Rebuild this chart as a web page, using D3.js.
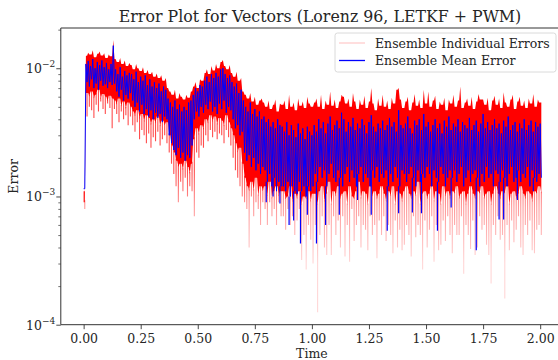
<!DOCTYPE html>
<html>
<head>
<meta charset="utf-8">
<script src="https://cdn.jsdelivr.net/npm/d3@7/dist/d3.min.js"></script>
<style>
  body { margin: 0; background: #fff; }
  svg { display: block; }
  text { font-family: "DejaVu Serif", serif; fill: #262626; }
</style>
</head>
<body>
<svg id="chart" width="558" height="360"></svg>
<script>
// Error values are stored in units of 1e-4, one sample every 0.01 time units from t = 0.
const UNIT = 1e-4;
const T_STEP = 0.01;

// Ensemble members: upper edge, dense lower edge and faint lowest excursions per step.
const redHigh = [11,
  125,132,128,138,122,130,135,126,131,120,128,124,
  166,
  118,112,120,108,115,104,110,
  106,98,108,100,95,102,92,97,90,94,86,91,84,88,80,84,
  70,66,62,68,58,64,60,57,62,59,66,
  72,78,70,82,80,
  92,98,90,104,96,108,100,112,116,104,98,106,
  92,86,94,80,84,
  66,62,58,64,55,60,52,56,58,
  54,50,56,48,52,57,46,53,
  52,56,48,62,50,54,47,58,51,55,49,60,53,50,
  54,58,50,62,48,56,52,66,51,57,
  49,55,62,60,53,58,50,64,55,48,
  57,52,61,49,55,70,53,47,58,51,
  62,50,56,48,59,53,68,70,57,49,
  55,60,47,54,63,51,57,49,68,53,
  66,50,56,61,48,55,52,59,47,57,
  53,62,50,56,72,49,54,58,51,60,
  48,55,63,57,57,52,59,47,56,61,
  52,58,49,65,54,50,57,62,48,55,
  60,51,56,49,58,53,63,50,57,54];

const redLow = [9,
  64,60,66,58,62,68,57,63,60,55,61,58,
  56,
  52,58,50,55,48,54,50,
  46,42,47,40,44,38,43,41,36,40,37,42,35,39,36,38,
  30,25,22,19,17,18,16,19,17,15,18,
  28,34,30,36,33,
  40,37,43,38,42,36,41,39,35,43,38,34,
  30,26,22,24,18,
  14,12,11,13,11,14,10,12,11,
  12,10,13,9.5,11,12,10,11,
  11,9.5,10,12,9,10.5,9.5,11,8.5,10,9.5,11,9,10.5,
  10.5,8.5,11,12,9,10.5,13,8.5,11,10,
  12,9.5,10.5,11,8.5,12,10,9.5,11,13,
  9.5,11,10.5,8.5,12,10,11,9.5,10.5,12,
  10.5,9,11,10,12,8.5,11,10.5,9,11,
  12,10.5,9.5,11,10,13,8.5,10.5,11,9.5,
  10.5,12,9,11,10.5,8.5,12,10,11,9.5,
  11,10.5,12,9.5,10.5,11,8.5,10.5,12,10.5,
  9.5,11,10.5,12,9.5,10.5,11,8.5,10.5,12,
  10.5,9.5,11,10.5,12,8.5,10.5,11,9.5,10.5,
  12,10.5,9.5,11,10.5,9,11,10.5,12,10.5];

const redMin = [8,
  42,50,47,41,52,46,55,48,44,53,49,34,
  48,
  44,38,46,40,43,36,42,
  36,32,38,28,33,30,26,31,24,29,27,32,25,28,30,26,
  22,18,15,12,9,13,11,14,10,12,11,
  7,22,20,25,24,
  30,27,33,29,32,28,31,30,26,33,29,25,
  20,16,14,12,10,
  9,8,4,10,7,9,8,6,9,
  8,6,9,7,8,6,9,7,
  7,5.5,8,6,7,5,6.5,8,3.2,5,2.7,6,4.6,3,
  6,1.25,5,7,4,3.5,6,3.5,7,5,
  6.5,4,7,3.4,6,3.1,8,4.5,6,7,
  4,6,5.5,3.8,7,5,6,3.3,6.5,5,
  7,4.5,6,5,3.6,6.5,4,5.5,3.8,4.2,
  6,5,3.4,7,4.8,6,5,2.7,6.5,4,
  5.5,7,3.1,6,3.8,4.2,6.5,4.5,7,5,
  3.6,6,5,5,7,2.5,6,5,3.9,6.5,
  3.5,4,7,5.5,6,4.2,3.5,2.1,6,5,
  7,4.6,5,1.6,6,3.8,6.5,4.4,5.5,7,
  4,3.5,6,5,6.5,3.8,3.6,5.5,6,5];

// Ensemble mean: upper and lower edge per step, plus isolated deep dips [time, value].
const meanHigh = [11.5,
  108,114,104,118,100,112,106,115,102,110,98,108,
  150,
  98,90,102,86,95,88,92,
  90,82,94,78,86,80,88,74,82,72,78,70,76,66,72,68,
  58,54,50,56,48,52,46,50,47,54,56,
  62,70,66,74,72,
  80,86,78,90,84,92,86,98,100,90,84,88,
  78,72,76,64,68,
  56,50,46,54,44,48,42,46,40,
  42,38,40,35,38,34,40,36,
  35,32,38,30,36,33,29,37,31,34,28,35,32,30,
  36,32,40,34,38,31,37,42,33,36,
  39,34,45,40,32,38,35,41,33,37,
  34,40,36,31,38,43,35,32,37,34,
  39,33,36,41,35,38,32,47,36,34,
  37,42,34,31,39,36,40,33,44,35,
  38,32,36,40,34,37,31,39,35,42,
  33,37,35,40,32,38,36,34,41,33,
  36,39,32,37,44,34,38,33,36,40,
  34,37,31,39,35,42,33,36,38,32,
  37,34,40,33,36,39,32,38,35,37];

const meanLow = [11.5,
  78,72,82,70,76,68,80,73,75,70,78,74,
  76,
  66,60,68,56,62,58,64,
  56,50,54,46,52,44,48,42,47,40,45,41,44,38,42,40,
  30,26,23,21,24,20,22,19,21,20,25,
  40,46,42,50,45,
  52,48,55,46,50,44,53,48,56,45,50,47,
  40,34,36,30,32,
  22,19,21,17,20,16,18,15,17,
  16,13,15,12,14,11,13,12,
  12,11,13,10,12,11,10.5,13,11,12,10,12,11,12,
  15,13,17,14,16,12,15,18,14,13,
  16,14,12,15,17,13,16,14,12,15,
  17,13,15,14,12,16,14,17,13,15,
  14,16,12,15,13,17,14,12,16,15,
  13,15,17,14,12,16,13,15,14,17,
  15,12,16,14,13,17,15,12,14,16,
  14,16,13,15,17,12,14,16,13,15,
  16,14,12,15,13,17,14,15,12,16,
  15,13,16,14,12,15,17,13,14,16,
  13,15,14,17,12,16,14,13,15,14];

const meanDips = [
  [0.80, 9.0], [0.83, 10], [0.86, 8.8], [0.90, 6.0], [0.92, 6.5], [0.95, 4.3],
  [0.98, 7.2], [1.02, 4.3], [1.06, 6.0], [1.12, 7.2], [1.20, 9.4], [1.26, 7.2],
  [1.33, 5.4], [1.38, 7.4], [1.44, 7.5], [1.48, 7.4], [1.55, 5.4], [1.61, 8.2],
  [1.72, 3.8], [1.82, 6.6], [1.84, 6.6], [1.90, 9.4], [1.97, 11]
];

const xTickValues = [0, 0.25, 0.5, 0.75, 1.0, 1.25, 1.5, 1.75, 2.0];
const yDecades = [-4, -3, -2];

const titleText = "Error Plot for Vectors (Lorenz 96, LETKF + PWM)";
const xLabel = "Time";
const yLabel = "Error";
const legendItems = [
  { label: "Ensemble Individual Errors", color: "rgba(255,0,0,0.2)" },
  { label: "Ensemble Mean Error", color: "#0000ff" }
];

// ---- layout ----
const FONT = 12.5;
const svg = d3.select("#chart");
const plot = { left: 60.8, right: 563, top: 28, bottom: 324.7 };

const x = d3.scaleLinear().domain([-0.1, 2.1]).range([plot.left, plot.right]);
const y = d3.scaleLog().domain([1e-4, 0.0206]).range([plot.bottom, plot.top]);

const defs = svg.append("defs");
defs.append("clipPath").attr("id", "plotClip")
  .append("rect")
  .attr("x", plot.left).attr("y", plot.top)
  .attr("width", plot.right - plot.left).attr("height", plot.bottom - plot.top);

// streaks fade as they reach deeper errors
const fade = defs.append("linearGradient").attr("id", "streakFade")
  .attr("gradientUnits", "userSpaceOnUse")
  .attr("x1", 0).attr("x2", 0).attr("y1", y(1.6e-3)).attr("y2", y(3e-4));
fade.append("stop").attr("offset", 0).attr("stop-color", "#ff0000").attr("stop-opacity", 0.7);
fade.append("stop").attr("offset", 0.4).attr("stop-color", "#ff0000").attr("stop-opacity", 0.4);
fade.append("stop").attr("offset", 1).attr("stop-color", "#ff0000").attr("stop-opacity", 0.16);

const marks = svg.append("g").attr("clip-path", "url(#plotClip)");

const tOf = i => i * T_STEP;
const H = T_STEP / 2;

// Band outline: upper peaks at each step, lower peaks half a step later,
// with the notches between peaks at the shallower neighbouring value.
function notchedBand(hi, lo) {
  const pts = [];
  const n = hi.length;
  for (let i = 0; i < n; i++) {
    const prevLo = i > 0 ? lo[i - 1] : lo[i];
    const nextHi = i < n - 1 ? hi[i + 1] : hi[i];
    pts.push({ t: tOf(i), top: hi[i], bottom: Math.max(prevLo, lo[i]) });
    pts.push({ t: tOf(i) + H, top: Math.min(hi[i], nextHi), bottom: lo[i] });
  }
  return pts;
}
const bandArea = d3.area()
  .x(d => x(d.t))
  .y1(d => y(d.top * UNIT))
  .y0(d => y(d.bottom * UNIT));

// faint excursions of individual members below the dense band
marks.append("g").selectAll("line").data(redMin).join("line")
  .attr("x1", (d, i) => x(tOf(i) + H)).attr("x2", (d, i) => x(tOf(i) + H))
  .attr("y1", (d, i) => y(redLow[i] * UNIT) - 2)
  .attr("y2", d => y(d * UNIT))
  .attr("stroke", "url(#streakFade)")
  .attr("stroke-width", 1.1);

// dense band of individual members
marks.append("path")
  .attr("d", bandArea(notchedBand(redHigh, redLow)))
  .attr("fill", "#ff0000");

// ensemble mean: the line swings between its upper and lower value each step
const swing = (hi, lo) => {
  const pts = [];
  hi.forEach((h, i) => { pts.push([tOf(i), h * UNIT]); pts.push([tOf(i) + H, lo[i] * UNIT]); });
  return pts;
};
const line = d3.line().x(d => x(d[0])).y(d => y(d[1]));
marks.append("path")
  .attr("d", line(swing(meanHigh, meanLow)))
  .attr("fill", "none").attr("stroke", "#0000ff").attr("stroke-width", 1.0)
  .attr("stroke-linejoin", "miter");

marks.append("g").selectAll("line").data(meanDips).join("line")
  .attr("x1", d => x(d[0])).attr("x2", d => x(d[0]))
  .attr("y1", d => y(meanLow[Math.round(d[0] / T_STEP)] * UNIT))
  .attr("y2", d => y(d[1] * UNIT))
  .attr("stroke", "#0000ff")
  .attr("stroke-width", 1.2);

// ---- axes ----
const axisColor = "#333";
const xAxis = d3.axisBottom(x).tickValues(xTickValues).tickFormat(d3.format(".2f"))
  .tickSize(4.5).tickPadding(4.5);
const gx = svg.append("g").attr("transform", `translate(0,${plot.bottom})`).call(xAxis);
gx.select(".domain").remove();
gx.selectAll("line").attr("stroke", axisColor).attr("stroke-width", 0.9);
gx.selectAll("text").attr("font-size", FONT).attr("font-family", "DejaVu Serif").attr("fill", "#262626");

const majorVals = yDecades.map(e => Math.pow(10, e));
const minorVals = [];
yDecades.forEach(e => { for (let k = 2; k <= 9; k++) { const v = k * Math.pow(10, e); if (v <= y.domain()[1]) minorVals.push(v); } });

const gyMinor = svg.append("g").attr("transform", `translate(${plot.left},0)`)
  .call(d3.axisLeft(y).tickValues(minorVals).tickFormat("").tickSize(2.5));
gyMinor.select(".domain").remove();
gyMinor.selectAll("line").attr("stroke", axisColor).attr("stroke-width", 0.7);

const gy = svg.append("g").attr("transform", `translate(${plot.left},0)`)
  .call(d3.axisLeft(y).tickValues(majorVals).tickFormat("").tickSize(4.5));
gy.select(".domain").remove();
gy.selectAll("line").attr("stroke", axisColor).attr("stroke-width", 0.9);

// decade labels as 10 with a superscript exponent
const yl = svg.append("g");
yDecades.forEach(e => {
  const t = yl.append("text")
    .attr("x", plot.left - 5.5)
    .attr("y", y(Math.pow(10, e)) + 5)
    .attr("text-anchor", "end")
    .attr("font-size", FONT);
  t.append("tspan").text("10");
  t.append("tspan").attr("dy", -6).attr("font-size", 9).text("\u2212" + Math.abs(e));
});

// spines
const spine = (x1, y1, x2, y2) => svg.append("line")
  .attr("x1", x1).attr("y1", y1).attr("x2", x2).attr("y2", y2)
  .attr("stroke", axisColor).attr("stroke-width", 1);
spine(plot.left, plot.top, plot.left, plot.bottom);
spine(plot.left, plot.bottom, plot.right, plot.bottom);
spine(plot.left, plot.top, plot.right, plot.top);
spine(plot.right, plot.top, plot.right, plot.bottom);

// ---- titles ----
svg.append("text").attr("x", 320).attr("y", 22).attr("text-anchor", "middle")
  .attr("font-size", 15.8).text(titleText);
svg.append("text").attr("x", (plot.left + plot.right) / 2).attr("y", 358.2).attr("text-anchor", "middle")
  .attr("font-size", FONT).text(xLabel);
svg.append("text").attr("transform", `translate(17.5,${(plot.top + plot.bottom) / 2}) rotate(-90)`)
  .attr("text-anchor", "middle").attr("font-size", FONT).text(yLabel);

// ---- legend ----
const lg = svg.append("g").attr("transform", "translate(335,33)");
lg.append("rect").attr("width", 221).attr("height", 39).attr("rx", 2.5)
  .attr("fill", "#fff").attr("fill-opacity", 0.8).attr("stroke", "#d6d6d6").attr("stroke-width", 0.9);
legendItems.forEach((d, i) => {
  const yy = 10 + i * 17.5;
  lg.append("line").attr("x1", 4).attr("x2", 30).attr("y1", yy).attr("y2", yy)
    .attr("stroke", d.color).attr("stroke-width", 1.3);
  lg.append("text").attr("x", 40).attr("y", yy + 4.5).attr("font-size", FONT).text(d.label);
});
</script>
</body>
</html>
